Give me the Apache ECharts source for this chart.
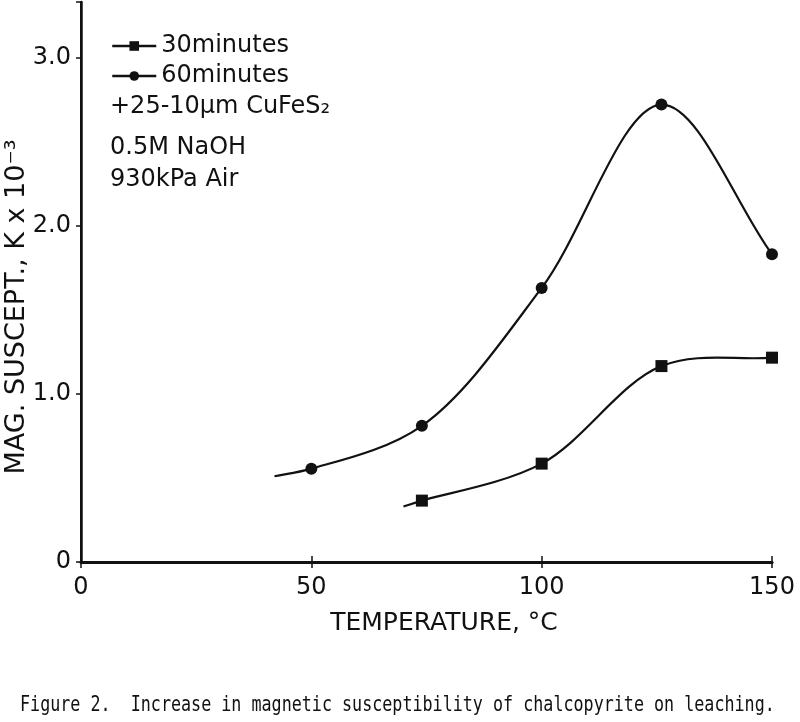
<!DOCTYPE html>
<html>
<head>
<meta charset="utf-8">
<script src="https://cdn.jsdelivr.net/npm/echarts@6/dist/echarts.min.js"></script>
<style>html,body{margin:0;padding:0;background:#fff}#c{width:800px;height:722px}</style>
</head>
<body>
<div id="c"></div>
<script>
const temps30 = [74, 100, 126, 150];
const vals30  = [0.365, 0.585, 1.165, 1.215];
const temps60 = [50, 74, 100, 126, 150];
const vals60  = [0.555, 0.81, 1.63, 2.72, 1.83];
// Start of each hand-drawn curve (no marker there)
const start30 = [70, 0.33];
const start60 = [42, 0.51];
const yTicks = [0, 1, 2, 3];
const noteLines = ['+25-10\u00b5m CuFeS\u2082', '0.5M NaOH', '930kPa Air'];
const noteY = [107, 148, 180];
const caption = 'Figure 2.  Increase in magnetic susceptibility of chalcopyrite on leaching.';

// Smooth curve through the points, positioned by the chart's own scales
function curveSeries(start, xs, ys) {
  const data = [start].concat(xs.map((x, i) => [x, ys[i]]));
  return {
    type: 'custom', silent: true, z: 1,
    data: data,
    renderItem: function (params, api) {
      if (params.dataIndex !== 0) return null;
      const p = data.map(d => api.coord(d));
      const n = p.length;
      const ext = [[2 * p[0][0] - p[1][0], 2 * p[0][1] - p[1][1]]]
        .concat(p, [[2 * p[n - 1][0] - p[n - 2][0], 2 * p[n - 1][1] - p[n - 2][1]]]);
      const dist = (a, b) => Math.pow(Math.hypot(b[0] - a[0], b[1] - a[1]), 0.5);
      let path = 'M' + p[0][0] + ' ' + p[0][1];
      for (let i = 1; i < ext.length - 2; i++) {
        const P0 = ext[i - 1], P1 = ext[i], P2 = ext[i + 1], P3 = ext[i + 2];
        const d1 = dist(P0, P1), d2 = dist(P1, P2), d3 = dist(P2, P3);
        const b1 = [0, 1].map(k => (d1 * d1 * P2[k] - d2 * d2 * P0[k] + (2 * d1 * d1 + 3 * d1 * d2 + d2 * d2) * P1[k]) / (3 * d1 * (d1 + d2)));
        const b2 = [0, 1].map(k => (d3 * d3 * P1[k] - d2 * d2 * P3[k] + (2 * d3 * d3 + 3 * d3 * d2 + d2 * d2) * P2[k]) / (3 * d3 * (d3 + d2)));
        path += ' C' + b1[0] + ' ' + b1[1] + ' ' + b2[0] + ' ' + b2[1] + ' ' + P2[0] + ' ' + P2[1];
      }
      return {type: 'path', shape: {pathData: path},
              style: {fill: 'none', stroke: '#111', lineWidth: 2.2}};
    }
  };
}
function markerSeries(name, sym, xs, ys) {
  return {
    name: name, type: 'line', symbol: sym, symbolSize: 12, z: 3,
    itemStyle: {color: '#111'}, lineStyle: {opacity: 0},
    data: xs.map((x, i) => [x, ys[i]])
  };
}
const font = 'DejaVu Sans';
const chart = echarts.init(document.getElementById('c'));
chart.setOption({
  animation: false,
  backgroundColor: '#fff',
  grid: {left: 81, right: 28, top: 2, bottom: 160, outerBoundsMode: 'none'},
  legend: {
    orient: 'vertical', left: 106, top: 29, itemGap: 6,
    itemWidth: 44, itemHeight: 12,
    lineStyle: {color: '#111', width: 2.5, opacity: 1},
    textStyle: {fontFamily: font, fontSize: 24, color: '#111'},
    data: ['30minutes', '60minutes']
  },
  xAxis: [{
    type: 'value', min: 0, max: 150, interval: 50,
    axisLine: {lineStyle: {color: '#111', width: 2.5}},
    axisTick: {inside: true, length: 6, lineStyle: {color: '#111', width: 1.5}},
    axisLabel: {fontFamily: font, fontSize: 24, color: '#111', margin: 14},
    splitLine: {show: false}
  }, {
    type: 'value', position: 'top', min: 0, max: 150, interval: 50,
    axisLine: {show: true, lineStyle: {color: '#111', width: 3}},
    axisTick: {inside: true, length: 6, lineStyle: {color: '#111', width: 1.5}},
    axisLabel: {show: false}, splitLine: {show: false}
  }],
  yAxis: [{
    type: 'value', min: 0, max: 3.33, interval: 1,
    axisLine: {show: true, lineStyle: {color: '#111', width: 2.5}},
    axisTick: {length: 5, lineStyle: {color: '#111', width: 1.5}},
    axisLabel: {fontFamily: font, fontSize: 24, color: '#111', margin: 10,
      formatter: v => (yTicks.indexOf(v) < 0 ? '' : (v === 0 ? '0' : v.toFixed(1)))},
    splitLine: {show: false}
  }, {
    type: 'value', position: 'right', min: 0, max: 3.33, interval: 1,
    axisLine: {show: true, lineStyle: {color: '#111', width: 2}},
    axisTick: {inside: true, length: 5, lineStyle: {color: '#111', width: 1.5}},
    axisLabel: {show: false}, splitLine: {show: false}
  }],
  series: [
    curveSeries(start30, temps30, vals30),
    curveSeries(start60, temps60, vals60),
    markerSeries('30minutes', 'rect', temps30, vals30),
    markerSeries('60minutes', 'circle', temps60, vals60)
  ],
  graphic: [
    ...noteLines.map((t, i) => ({
      type: 'text', x: 110, y: noteY[i],
      style: {text: t, fontFamily: font, fontSize: 24, fill: '#111', verticalAlign: 'middle'}
    })),
    {type: 'text', x: 17, y: 307, rotation: Math.PI / 2,
     style: {text: 'MAG. SUSCEPT., K x 10\u207b\u00b3', fontFamily: font, fontSize: 27, fill: '#111',
             align: 'center', verticalAlign: 'middle'}},
    {type: 'text', x: 444, y: 623,
     style: {text: 'TEMPERATURE, \u00b0C', fontFamily: font, fontSize: 25, fill: '#111',
             align: 'center', verticalAlign: 'middle'}},
    {type: 'text', x: 20, y: 706, scaleX: 0.796,
     style: {text: caption, fontFamily: 'DejaVu Sans Mono', fontSize: 21, fill: '#111',
             verticalAlign: 'middle'}}
  ]
});
</script>
</body>
</html>
